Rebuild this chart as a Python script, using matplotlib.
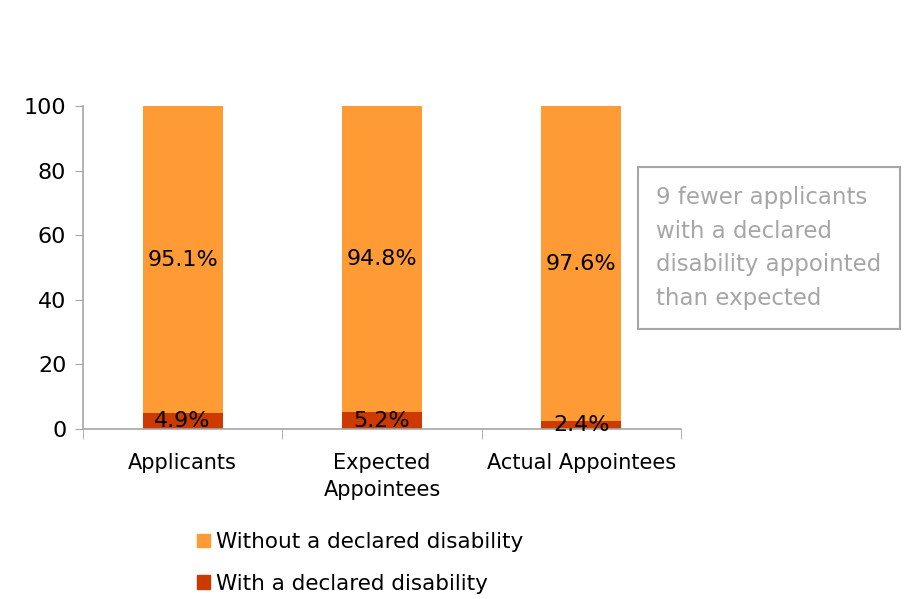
import matplotlib.pyplot as plt
from matplotlib.patches import Patch

categories = ['Applicants', 'Expected\nAppointees', 'Actual Appointees']
with_disability = [4.9, 5.2, 2.4]
without_disability = [95.1, 94.8, 97.6]
y_ticks = [0, 20, 40, 60, 80, 100]
note = '9 fewer applicants\nwith a declared\ndisability appointed\nthan expected'

orange = '#FF9B35'
red = '#CC3A00'
grey = '#A6A6A6'

plt.rcParams['font.family'] = ['DejaVu Sans']

fig = plt.figure(figsize=(9.18, 5.99), dpi=100)
ax = fig.add_axes([83 / 918, 1 - 429 / 599, 598 / 918, 323 / 599])

x = range(len(categories))
ax.bar(x, with_disability, width=0.4, color=red)
ax.bar(x, without_disability, width=0.4, bottom=with_disability, color=orange)

for i in x:
    ax.text(i, with_disability[i] / 2, f'{with_disability[i]}%', ha='center', va='center',
            fontsize=16, color='black')
    ax.text(i, with_disability[i] + without_disability[i] / 2, f'{without_disability[i]}%',
            ha='center', va='center', fontsize=16, color='black')

ax.set_xlim(-0.5, 2.5)
ax.set_ylim(0, 100)
ax.set_yticks(y_ticks)
ax.tick_params(axis='y', labelsize=16, length=6, color=grey, pad=6)
ax.set_xticks(list(x))
ax.set_xticklabels(categories, fontsize=15, linespacing=1.45)
ax.tick_params(axis='x', length=0, pad=17)
ax.set_xticks([-0.5, 0.5, 1.5, 2.5], minor=True)
ax.tick_params(axis='x', which='minor', length=7, color=grey)

for s in ['top', 'right']:
    ax.spines[s].set_visible(False)
for s in ['left', 'bottom']:
    ax.spines[s].set_color(grey)
    ax.spines[s].set_linewidth(1.2)

fig.text(656 / 918, 1 - 248 / 599, note, fontsize=16.5, color=grey, va='center', ha='left',
         linespacing=1.6,
         bbox=dict(boxstyle='square,pad=0.8', facecolor='white', edgecolor=grey, linewidth=1.5))

handles = [Patch(color=orange, label='Without a declared disability'),
           Patch(color=red, label='With a declared disability')]
fig.legend(handles=handles, loc='center', bbox_to_anchor=(360 / 918, 1 - 563 / 599),
           frameon=False, fontsize=15.5, ncol=1, handlelength=0.6, handleheight=0.6,
           handletextpad=0.3, labelspacing=1.0)

fig.savefig('out.png', dpi=100)
